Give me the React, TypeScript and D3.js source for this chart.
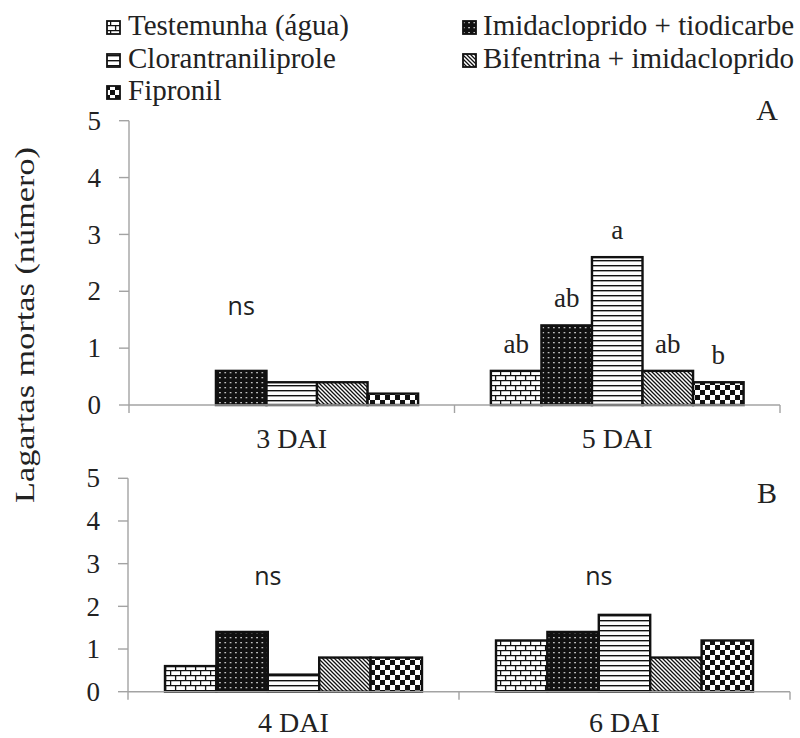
import React from "react";
import * as d3 from "d3";

// Treatments (legend order = bar order inside each group)
const treatments = [
  "Testemunha (água)",
  "Imidacloprido + tiodicarbe",
  "Clorantraniliprole",
  "Bifentrina + imidacloprido",
  "Fipronil",
];

// Panel A: days after infestation and mean dead caterpillars
const daysA = ["3 DAI", "5 DAI"];
const valuesA3 = [0, 0.6, 0.4, 0.4, 0.2];
const valuesA5 = [0.6, 1.4, 2.6, 0.6, 0.4];
const lettersA5 = ["ab", "ab", "a", "ab", "b"];

// Panel B
const daysB = ["4 DAI", "6 DAI"];
const valuesB4 = [0.6, 1.4, 0.4, 0.8, 0.8];
const valuesB6 = [1.2, 1.4, 1.8, 0.8, 1.2];

const yTicks = [0, 1, 2, 3, 4, 5];

const patternIds = ["pBrick", "pDots", "pHLines", "pDiag", "pCheck"];

const SERIF = "Liberation Serif, Tinos, Times New Roman, DejaVu Serif, serif";
const SANS = "Open Sans, Noto Sans, sans-serif";
const AXIS = "#a3a3a3";

type PanelProps = {
  days: string[];
  values: number[][];
  letters: (string[] | null)[];
  ns: boolean[];
  nsOffset: number;
  nsValue: number;
  x0: number;
  x1: number;
  yTop: number;
  yBase: number;
  labelDy: number;
  tag: string;
  tagY: number;
};

function Panel(p: PanelProps) {
  const x = d3.scaleBand<string>().domain(p.days).range([p.x0, p.x1]).padding(0);
  const inner = d3
    .scaleBand<string>()
    .domain(treatments)
    .range([0, x.bandwidth()])
    .paddingInner(0)
    .paddingOuter(0.72);
  const y = d3.scaleLinear().domain([0, 5]).range([p.yBase, p.yTop]);
  const bw = inner.bandwidth();
  const serif = { fontFamily: SERIF };

  return (
    <g>
      {/* bars */}
      {p.days.map((day, di) =>
        treatments.map((t, ti) => {
          const v = p.values[di][ti];
          if (v <= 0) return null;
          const bx = (x(day) as number) + (inner(t) as number);
          return (
            <rect
              key={day + t}
              x={bx}
              y={y(v)}
              width={bw}
              height={y(0) - y(v)}
              fill={`url(#${patternIds[ti]})`}
              stroke="#111"
              strokeWidth={2.4}
            />
          );
        })
      )}
      {/* letters above bars */}
      {p.days.map((day, di) => {
        const l = p.letters[di];
        if (!l) return null;
        return l.map((txt, ti) => {
          const t = treatments[ti];
          const cx = (x(day) as number) + (inner(t) as number) + bw / 2;
          return (
            <text
              key={day + "l" + ti}
              x={cx}
              y={y(p.values[di][ti]) - 18}
              textAnchor="middle"
              style={serif}
              fontSize={27}
              fill="#222"
            >
              {txt}
            </text>
          );
        });
      })}
      {/* non-significant marks */}
      {p.days.map((day, di) =>
        p.ns[di] ? (
          <text
            key={day + "ns"}
            x={(x(day) as number) + (inner(treatments[0]) as number) + p.nsOffset * bw}
            y={y(p.nsValue)}
            textAnchor="middle"
            style={{ fontFamily: SANS }}
            fontSize={25}
            fill="#222"
          >
            ns
          </text>
        ) : null
      )}
      {/* y axis */}
      <line x1={p.x0} x2={p.x0} y1={y(5)} y2={p.yBase + 8} stroke={AXIS} strokeWidth={1.4} />
      {yTicks.map((t) => (
        <g key={"yt" + t}>
          <line x1={p.x0 - 10} x2={p.x0} y1={y(t)} y2={y(t)} stroke={AXIS} strokeWidth={1.4} />
          <text
            x={p.x0 - 28}
            y={y(t)}
            dy="0.34em"
            textAnchor="end"
            style={serif}
            fontSize={27}
            fill="#222"
          >
            {t}
          </text>
        </g>
      ))}
      {/* x axis */}
      <line x1={p.x0} x2={p.x1} y1={p.yBase} y2={p.yBase} stroke={AXIS} strokeWidth={1.4} />
      {[p.x0 + x.bandwidth(), p.x1].map((tx, i) => (
        <line key={"xt" + i} x1={tx} x2={tx} y1={p.yBase} y2={p.yBase + 8} stroke={AXIS} strokeWidth={1.4} />
      ))}
      {p.days.map((day) => (
        <text
          key={day + "x"}
          x={(x(day) as number) + x.bandwidth() / 2}
          y={p.yBase + p.labelDy}
          textAnchor="middle"
          style={serif}
          fontSize={28}
          fill="#222"
        >
          {day}
        </text>
      ))}
      <text x={767} y={p.tagY} textAnchor="middle" style={serif} fontSize={30} fill="#222">
        {p.tag}
      </text>
    </g>
  );
}

export default function App() {
  const legendPos = [
    { sx: 107, tx: 128, by: 35 },
    { sx: 463, tx: 483, by: 35 },
    { sx: 107, tx: 128, by: 68 },
    { sx: 463, tx: 483, by: 68 },
    { sx: 107, tx: 128, by: 100 },
  ];
  return (
    <svg
      width={800}
      height={738}
      viewBox="0 0 800 738"
      style={{ position: "absolute", left: 0, top: 0, background: "#fff" }}
    >
      <defs>
        <pattern id="pBrick" patternUnits="userSpaceOnUse" width={10} height={10}>
          <rect width={10} height={10} fill="#fff" />
          <path d="M0 0.6H10M0 5.6H10M0.6 0.6V5.6M5.6 5.6V10.6" stroke="#111" strokeWidth={1.3} fill="none" />
        </pattern>
        <pattern id="pDots" patternUnits="userSpaceOnUse" width={5.3} height={5}>
          <rect width={5.3} height={5} fill="#111" />
          <rect x={2} y={2} width={1.3} height={1.3} fill="#fff" />
        </pattern>
        <pattern id="pHLines" patternUnits="userSpaceOnUse" width={10} height={5}>
          <rect width={10} height={5} fill="#fff" />
          <rect y={0} width={10} height={1.4} fill="#111" />
        </pattern>
        <pattern id="pDiag" patternUnits="userSpaceOnUse" width={4} height={4}>
          <rect width={4} height={4} fill="#fff" />
          <path d="M0 0L4 4M-1 3L1 5M3 -1L5 1" stroke="#111" strokeWidth={1.3} />
        </pattern>
        <pattern id="pCheck" patternUnits="userSpaceOnUse" width={10} height={10}>
          <rect width={10} height={10} fill="#fff" />
          <rect width={5} height={5} fill="#111" />
          <rect x={5} y={5} width={5} height={5} fill="#111" />
        </pattern>
      </defs>

      {/* legend */}
      {treatments.map((t, i) => (
        <g key={"lg" + i}>
          <rect
            x={legendPos[i].sx}
            y={legendPos[i].by - 14}
            width={13}
            height={13}
            fill={`url(#${patternIds[i]})`}
            stroke="#111"
            strokeWidth={1.8}
          />
          <text x={legendPos[i].tx} y={legendPos[i].by} style={{ fontFamily: SERIF }} fontSize={29} fill="#222">
            {t}
          </text>
        </g>
      ))}

      {/* y axis title */}
      <text
        transform="translate(34,325) rotate(-90)"
        textAnchor="middle"
        style={{ fontFamily: SERIF }}
        fontSize={28}
        fill="#222"
        textLength={356}
        lengthAdjust="spacingAndGlyphs"
      >
        Lagartas mortas (número)
      </text>

      <Panel
        days={daysA}
        values={[valuesA3, valuesA5]}
        letters={[null, lettersA5]}
        ns={[true, false]}
        nsOffset={1.5}
        nsValue={1.58}
        x0={129}
        x1={780}
        yTop={120.7}
        yBase={405}
        labelDy={43}
        tag="A"
        tagY={120}
      />
      <Panel
        days={daysB}
        values={[valuesB4, valuesB6]}
        letters={[null, null]}
        ns={[true, true]}
        nsOffset={2}
        nsValue={2.5}
        x0={128}
        x1={790}
        yTop={478.3}
        yBase={691.7}
        labelDy={40}
        tag="B"
        tagY={503}
      />
    </svg>
  );
}
